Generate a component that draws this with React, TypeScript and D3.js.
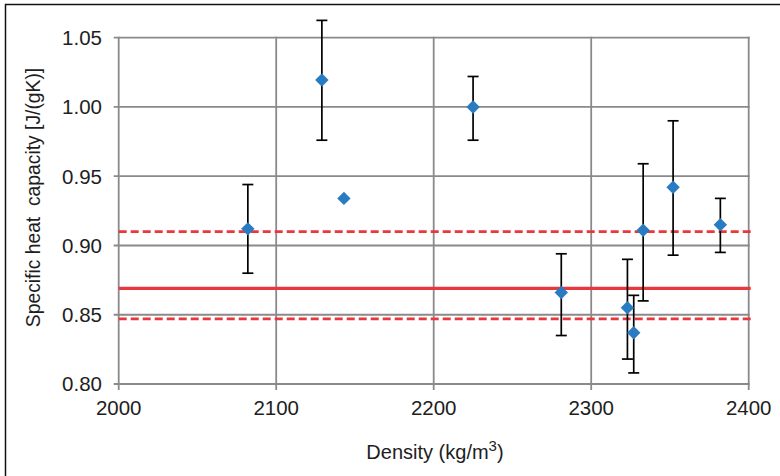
import React from "react";
import * as d3 from "d3";

const densities = [2082, 2129, 2143, 2225, 2281, 2323, 2327, 2333, 2352, 2382];
const heatCap = [0.912, 1.0195, 0.934, 1.0, 0.866, 0.855, 0.837, 0.911, 0.942, 0.915];
const errUpper = [0.944, 1.0625, 0.934, 1.022, 0.894, 0.890, 0.864, 0.959, 0.990, 0.934];
const errLower = [0.880, 0.976, 0.934, 0.976, 0.835, 0.818, 0.808, 0.860, 0.893, 0.895];
const meanValue = 0.869;
const bandUpper = 0.910;
const bandLower = 0.847;
const xTicks = [2000, 2100, 2200, 2300, 2400];
const yTicks = [0.8, 0.85, 0.9, 0.95, 1.0, 1.05];

const W = 780;
const H = 476;
const FONT = "'Liberation Sans', Arial, Helvetica, sans-serif";

export default function App() {
  const x = d3.scaleLinear().domain([2000, 2400]).range([118.7, 748.7]);
  const y = d3.scaleLinear().domain([0.8, 1.05]).range([384, 37.7]);
  const diamond = d3.symbol().type(d3.symbolSquare).size(90)();
  const grid = "#8a8a8d";
  const red = "#e8383d";
  const blue = "#2a7cc2";
  const capHalf = 5.5;

  return (
    <svg
      width={W}
      height={H}
      style={{ position: "absolute", left: 0, top: 0, background: "#fff" }}
    >
      {/* outer frame */}
      <rect x={5.5} y={4.5} width={W + 10} height={H + 10} fill="#fff" stroke="#111" strokeWidth={1.5} />

      {/* gridlines */}
      {xTicks.map((t) => (
        <line key={"gx" + t} x1={x(t)} x2={x(t)} y1={y(1.05) - 1} y2={y(0.8) + 6} stroke={grid} strokeWidth={1.8} />
      ))}
      {yTicks.map((t) => (
        <line key={"gy" + t} x1={x(2000) - 5} x2={x(2400) + 1} y1={y(t)} y2={y(t)} stroke={grid} strokeWidth={1.8} />
      ))}

      {/* tick labels */}
      {yTicks.map((t) => (
        <text
          key={"ty" + t}
          x={102}
          y={y(t)}
          dy="0.36em"
          textAnchor="end"
          fontFamily={FONT}
          fontSize={20.5}
          fill="#1e1e1e"
        >
          {d3.format(".2f")(t)}
        </text>
      ))}
      {xTicks.map((t) => (
        <text
          key={"tx" + t}
          x={x(t)}
          y={415}
          textAnchor="middle"
          fontFamily={FONT}
          fontSize={20.5}
          fill="#1e1e1e"
        >
          {t}
        </text>
      ))}

      {/* reference lines */}
      <line x1={x(2000)} x2={x(2400) + 2} y1={y(meanValue)} y2={y(meanValue)} stroke={red} strokeWidth={3.2} />
      <line x1={x(2000)} x2={x(2400) + 2} y1={y(bandUpper)} y2={y(bandUpper)} stroke={red} strokeWidth={2.8} strokeDasharray="8,4" />
      <line x1={x(2000)} x2={x(2400) + 2} y1={y(bandLower)} y2={y(bandLower)} stroke={red} strokeWidth={2.8} strokeDasharray="8,4" />

      {/* error bars */}
      {densities.map((d, i) =>
        errUpper[i] - errLower[i] > 0.002 ? (
          <g key={"e" + i} stroke="#000" strokeWidth={1.7}>
            <line x1={x(d)} x2={x(d)} y1={y(errUpper[i])} y2={y(errLower[i])} />
            <line x1={x(d) - capHalf} x2={x(d) + capHalf} y1={y(errUpper[i])} y2={y(errUpper[i])} />
            <line x1={x(d) - capHalf} x2={x(d) + capHalf} y1={y(errLower[i])} y2={y(errLower[i])} />
          </g>
        ) : null
      )}

      {/* markers */}
      {densities.map((d, i) => (
        <path
          key={"m" + i}
          d={diamond || ""}
          transform={`translate(${x(d)},${y(heatCap[i])}) rotate(45)`}
          fill={blue}
        />
      ))}

      {/* axis titles */}
      <text x={435} y={459} textAnchor="middle" fontFamily={FONT} fontSize={20} fill="#1e1e1e">
        Density (kg/m
        <tspan dy={-8} fontSize={15}>3</tspan>
        <tspan dy={8}>)</tspan>
      </text>
      <text
        transform="translate(40,197.5) rotate(-90)"
        textAnchor="middle"
        fontFamily={FONT}
        fontSize={19.3}
        fill="#1e1e1e"
        style={{ whiteSpace: "pre" }}
      >
        {"Specific heat  capacity [J/(gK)]"}
      </text>
    </svg>
  );
}
